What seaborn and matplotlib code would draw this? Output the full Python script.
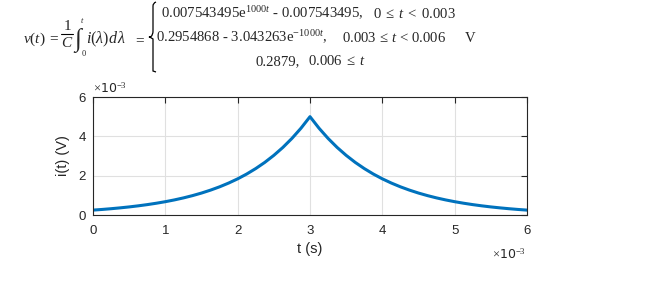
import numpy as np
import pandas as pd
import matplotlib
matplotlib.use("Agg")
import matplotlib.pyplot as plt
import seaborn as sns
from matplotlib.path import Path
from matplotlib.patches import PathPatch
from matplotlib.lines import Line2D

# data (t in seconds, i in V)
t_vals = [k * 0.000125 for k in range(49)]
i_rise = [0.249, 0.282, 0.320, 0.363, 0.411, 0.466, 0.528, 0.598, 0.677, 0.767, 0.869,
          0.985, 1.116, 1.265, 1.433, 1.624, 1.839, 2.084, 2.362, 2.676, 3.033, 3.436,
          3.894, 4.412, 5.000]
i_fall = [4.412, 3.894, 3.436, 3.033, 2.676, 2.362, 2.084, 1.839, 1.624, 1.433, 1.265,
          1.116, 0.985, 0.869, 0.767, 0.677, 0.598, 0.528, 0.466, 0.411, 0.363, 0.320,
          0.282, 0.249]
i_vals = [v * 1e-3 for v in i_rise + i_fall]
x_ticks = [0, 0.001, 0.002, 0.003, 0.004, 0.005, 0.006]
x_ticklabels = ["0", "1", "2", "3", "4", "5", "6"]
y_ticks = [0, 0.002, 0.004, 0.006]
y_ticklabels = ["0", "2", "4", "6"]

sns.set_style("white")
plt.rcParams["font.family"] = ["Liberation Sans", "DejaVu Sans"]
plt.rcParams["mathtext.fontset"] = "custom"
plt.rcParams["mathtext.rm"] = "Liberation Serif"
plt.rcParams["mathtext.it"] = "Liberation Serif:italic"
plt.rcParams["mathtext.cal"] = "Liberation Serif:italic"

W, H = 653, 301
fig = plt.figure(figsize=(W / 100, H / 100), dpi=100)
ax = fig.add_axes([93 / W, 1 - 215 / H, (527 - 93) / W, (215 - 97) / H])

df = pd.DataFrame({"t": t_vals, "i": i_vals})
sns.lineplot(data=df, x="t", y="i", ax=ax, color="#0072BD", linewidth=2.2)

ax.set_xlim(0, 0.006)
ax.set_ylim(0, 0.006)
ax.set_xticks(x_ticks)
ax.set_xticklabels(x_ticklabels)
ax.set_yticks(y_ticks)
ax.set_yticklabels(y_ticklabels)
ax.grid(True, color="#e0e0e0", linewidth=0.8)
ax.tick_params(direction="in", length=4, color="#262626", labelsize=9.5,
               labelcolor="#262626", top=True, right=True, pad=5)
ax.tick_params(axis="x", pad=7)
for s in ax.spines.values():
    s.set_color("#262626")
    s.set_linewidth(0.8)
ax.set_xlabel("t (s)", fontsize=10.5, color="#262626", labelpad=4)
ax.set_ylabel("i(t) (V)", fontsize=10.5, color="#262626", labelpad=6)

# exponent labels
fig.text(93 / W, 1 - 96 / H, r"$\times$10$^{-3}$", fontsize=9, color="#262626",
         ha="left", va="bottom", family=["DejaVu Sans"])
fig.text(526 / W, 1 - 262 / H, r"$\times$10$^{-3}$", fontsize=9, color="#262626",
         ha="right", va="bottom", family=["DejaVu Sans"])

# equation
serif = ["Liberation Serif", "DejaVu Serif"]
fs = 10.6

def T(x, y, s, ha="left", size=fs):
    fig.text(x / W, 1 - y / H, s, fontsize=size, family=serif, ha=ha, va="baseline")

T(23, 43, r"$v(t)\;=$", size=11)
T(67, 30, r"$1$", ha="center", size=11)
T(67, 47, r"$C$", ha="center", size=11)
fig.add_artist(Line2D([61 / W, 73 / W], [1 - 34 / H, 1 - 34 / H], color="black",
                      lw=0.8, transform=fig.transFigure))
T(78, 46, "\u222B", ha="center", size=18)
T(82, 23, r"$t$", ha="center", size=6)
T(84, 56, r"$0$", ha="center", size=6)
T(86, 43, r"$i(\lambda)d\,\lambda$", size=11.5)
T(133, 43, r"$=$", size=11)

T(161, 18, r"0.007543495e$^{1000t}$ - 0.007543495,")
T(373, 18, r"$0\;\leq\;t\;<\;0.003$")
T(156, 42, r"0.2954868 - 3.043263e$^{-1000t}$,")
T(342, 42, r"$0.003\,\leq\,t\,<\,0.006$")
T(465, 42, r"V")
T(255, 65, r"0.2879,")
T(308, 65, r"$0.006\;\leq\;t$")

# brace
bx, ytop, ybot = 153, 2, 72
ymid = (ytop + ybot) / 2
def P(x, y):
    return (x / W, 1 - y / H)
verts = [P(bx + 3, ytop), P(bx, ytop + 1), P(bx, ytop + 4), P(bx, ymid - 6),
         P(bx, ymid - 2), P(bx - 2, ymid - 0.5), P(bx - 4, ymid),
         P(bx - 2, ymid + 0.5), P(bx, ymid + 2), P(bx, ymid + 6),
         P(bx, ybot - 4), P(bx, ybot - 1), P(bx + 3, ybot)]
codes = [Path.MOVETO, Path.CURVE3, Path.CURVE3, Path.LINETO,
         Path.CURVE3, Path.CURVE3, Path.LINETO,
         Path.CURVE3, Path.CURVE3, Path.LINETO,
         Path.CURVE3, Path.CURVE3, Path.LINETO]
fig.add_artist(PathPatch(Path(verts, codes), transform=fig.transFigure,
                         fill=False, lw=0.9, color="black"))

fig.savefig("out.png", dpi=100, facecolor="white")
